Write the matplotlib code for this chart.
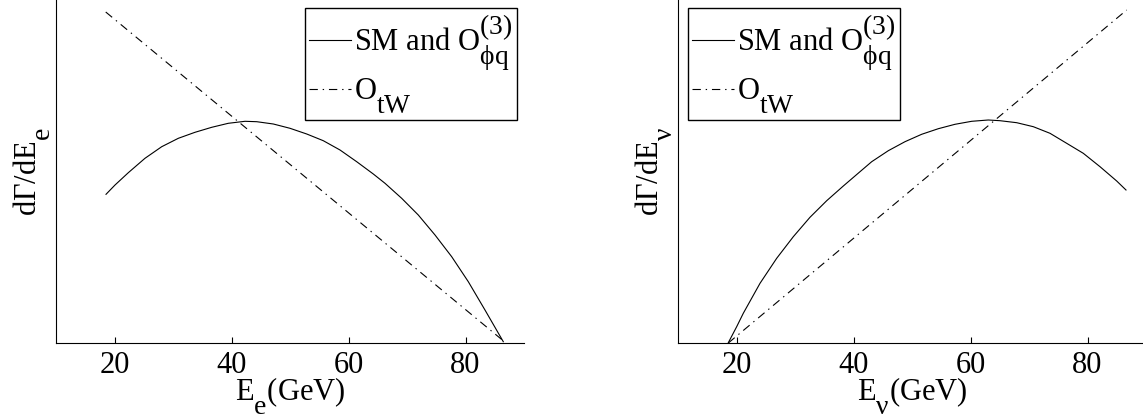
import numpy as np
import matplotlib
matplotlib.use("Agg")
from matplotlib import pyplot as plt
import matplotlib._mathtext as mt

# fonts: Times-like for text and math
plt.rcParams['font.family'] = ['Liberation Serif', 'DejaVu Serif']
plt.rcParams['mathtext.fontset'] = 'custom'
plt.rcParams['mathtext.rm'] = 'Liberation Serif'
plt.rcParams['mathtext.it'] = 'Liberation Serif:italic'
plt.rcParams['lines.scale_dashes'] = False
# bigger, lower sub/superscripts like the original tex labels
mt.SHRINK_FACTOR = 0.9
try:
    mt.FontConstantsBase.sub1 = 0.95
    mt.FontConstantsBase.sub2 = 0.95
    mt.FontConstantsBase.sup1 = 0.5
except AttributeError:
    pass

# data (y in arbitrary units)
# left panel: electron energy
ee_sm = [18.55, 20.09, 22.36, 25.21, 28.07, 30.91, 33.76, 36.62, 39.45, 42.31, 44.31,
         47.15, 50.0, 52.86, 55.69, 58.55, 61.40, 64.24, 66.24, 69.09, 71.93, 74.79,
         77.64, 80.48, 83.33, 86.46]
sm_e = [1.487, 1.58, 1.703, 1.847, 1.963, 2.047, 2.107, 2.157, 2.197, 2.217, 2.213,
        2.19, 2.147, 2.09, 2.023, 1.93, 1.813, 1.69, 1.597, 1.447, 1.28, 1.08,
        0.863, 0.613, 0.33, 0.013]
ee_tw = [18.5, 86.5]
tw_e = [3.31, 0.02]

# right panel: neutrino energy
ev_sm = [18.6, 20.03, 21.16, 24.02, 26.87, 29.71, 32.56, 35.42, 38.26, 41.11, 43.11,
         45.95, 48.80, 51.65, 54.50, 57.35, 60.20, 63.04, 65.04, 67.9, 70.74, 73.59,
         76.44, 79.28, 82.14, 84.99, 86.58]
sm_v = [0.003, 0.163, 0.297, 0.597, 0.847, 1.063, 1.257, 1.423, 1.57, 1.713, 1.813,
        1.923, 2.013, 2.087, 2.143, 2.187, 2.217, 2.23, 2.223, 2.203, 2.163, 2.097,
        1.997, 1.897, 1.763, 1.62, 1.53]
ev_tw = [18.6, 86.7]
tw_v = [0.0, 3.33]

xticks = [20, 40, 60, 80]
lab_sm = r'SM and O$^{(3)}_{\mathrm{ϕq}}$'
lab_tw = r'O$_{\mathrm{tW}}$'
FS = 22
dashdot = (0, (6, 3.5, 1, 3.5))

fig = plt.figure(figsize=(11.43, 4.19), dpi=100)

def setup(ax, xlabel, ylabel):
    ax.set_xlim(10, 90)
    ax.set_ylim(0, 3.43)
    ax.spines['top'].set_visible(False)
    ax.spines['right'].set_visible(False)
    ax.spines['left'].set_linewidth(0.8)
    ax.spines['bottom'].set_linewidth(0.8)
    ax.set_xticks(xticks)
    ax.set_yticks([])
    ax.tick_params(axis='x', direction='in', length=4, width=0.8, labelsize=FS, pad=6)
    ax.set_xlabel(xlabel, fontsize=FS, labelpad=-3)
    ax.set_ylabel(ylabel, fontsize=FS, labelpad=2)

def legend(ax, loc, anchor):
    leg = ax.legend(loc=loc, bbox_to_anchor=anchor, borderaxespad=0,
                    fontsize=FS, fancybox=False, edgecolor='k', framealpha=1,
                    handlelength=1.35, handletextpad=0.1, borderpad=0.15,
                    labelspacing=0.12)
    leg.get_frame().set_linewidth(1.0)

ax1 = fig.add_axes([56/1143, 1-343/419, 468/1143, 343/419])
ax1.plot(ee_sm, sm_e, color='k', lw=0.8, label=lab_sm)
ax1.plot(ee_tw, tw_e, color='k', lw=0.8, linestyle=dashdot, label=lab_tw)
setup(ax1, r'E$_{\mathrm{e}}$(GeV)', r'dΓ/dE$_{\mathrm{e}}$')
legend(ax1, 'upper right', (0.985, 0.977))

ax2 = fig.add_axes([678/1143, 1-343/419, 468/1143, 343/419])
ax2.plot(ev_sm, sm_v, color='k', lw=0.8, label=lab_sm)
ax2.plot(ev_tw, tw_v, color='k', lw=0.8, linestyle=dashdot, label=lab_tw)
setup(ax2, r'E$_{\mathrm{ν}}$(GeV)', r'dΓ/dE$_{\mathrm{ν}}$')
legend(ax2, 'upper left', (0.021, 0.977))

plt.savefig('out.png', dpi=100)
